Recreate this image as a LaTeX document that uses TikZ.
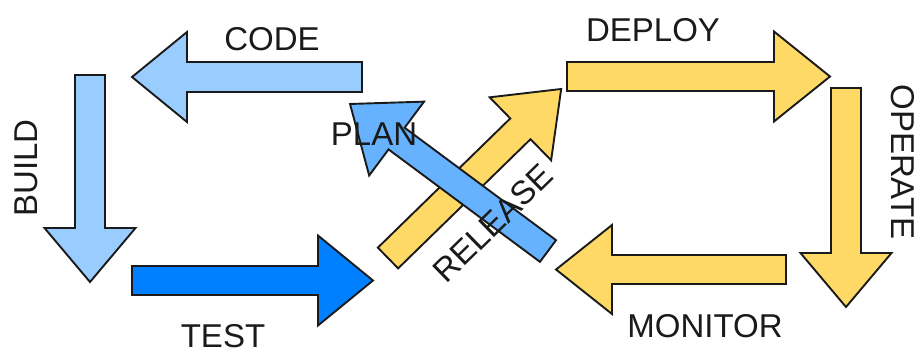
\documentclass[tikz,border=0pt]{standalone}
\usepackage{fontspec}
\setmainfont{Liberation Sans}
\definecolor{lblue}{HTML}{99CCFF}
\definecolor{mblue}{HTML}{66B2FF}
\definecolor{dblue}{HTML}{0080FF}
\definecolor{yel}{HTML}{FFD966}
\definecolor{ink}{HTML}{1A1A1A}
\newcommand\fatarrow[5]{%
  \draw[#1] (0,-#3) -- ({#2-#5},-#3) -- ({#2-#5},-#4) -- (#2,0) -- ({#2-#5},#4) -- ({#2-#5},#3) -- (0,#3) -- cycle;}
\tikzset{
  arr/.style={draw=ink, line width=1.9pt, line join=miter},
  lbl/.style={inner sep=0pt, text=ink, font=\fontsize{33}{33}\selectfont}
}
\begin{document}
\begin{tikzpicture}[x=1pt,y=-1pt]
\useasboundingbox (0,0) rectangle (919,349);
% CODE
\begin{scope}[shift={(362,77)},rotate=180]\fatarrow{arr,fill=lblue}{230}{15}{45}{55}\end{scope}
% BUILD
\begin{scope}[shift={(90,75)},rotate=-90]\fatarrow{arr,fill=lblue}{207}{15}{45.5}{54}\end{scope}
% TEST
\begin{scope}[shift={(132,280.5)}]\fatarrow{arr,fill=dblue}{241}{14.5}{45}{55}\end{scope}
% RELEASE
\begin{scope}[shift={(388,258)},rotate=44.3]\fatarrow{arr,fill=yel}{242}{14.5}{44}{57}\end{scope}
% PLAN
\begin{scope}[shift={(548,251)},rotate=143.4]\fatarrow{arr,fill=mblue}{246.6}{13.5}{46}{58}\end{scope}
% DEPLOY
\begin{scope}[shift={(567,76.5)}]\fatarrow{arr,fill=yel}{263}{14.5}{45}{56}\end{scope}
% OPERATE
\begin{scope}[shift={(846,88)},rotate=-90]\fatarrow{arr,fill=yel}{219}{15}{45.5}{54}\end{scope}
% MONITOR
\begin{scope}[shift={(786,269.5)},rotate=180]\fatarrow{arr,fill=yel}{230}{14.5}{44.5}{56}\end{scope}
% labels
\node[lbl] (code) at (272,39) {CODE};
\node[lbl,rotate=90] (build) at (26,168) {BUILD};
\node[lbl] (test) at (223,336) {TEST};
\node[lbl] (plan) at (374,134) {PLAN};
\node[lbl,rotate=44.3] (release) at (493,223) {RELEASE};
\node[lbl] (deploy) at (653,30) {DEPLOY};
\node[lbl,rotate=-90] (operate) at (903,162) {OPERATE};
\node[lbl] (monitor) at (705,326) {MONITOR};
\end{tikzpicture}
\end{document}
